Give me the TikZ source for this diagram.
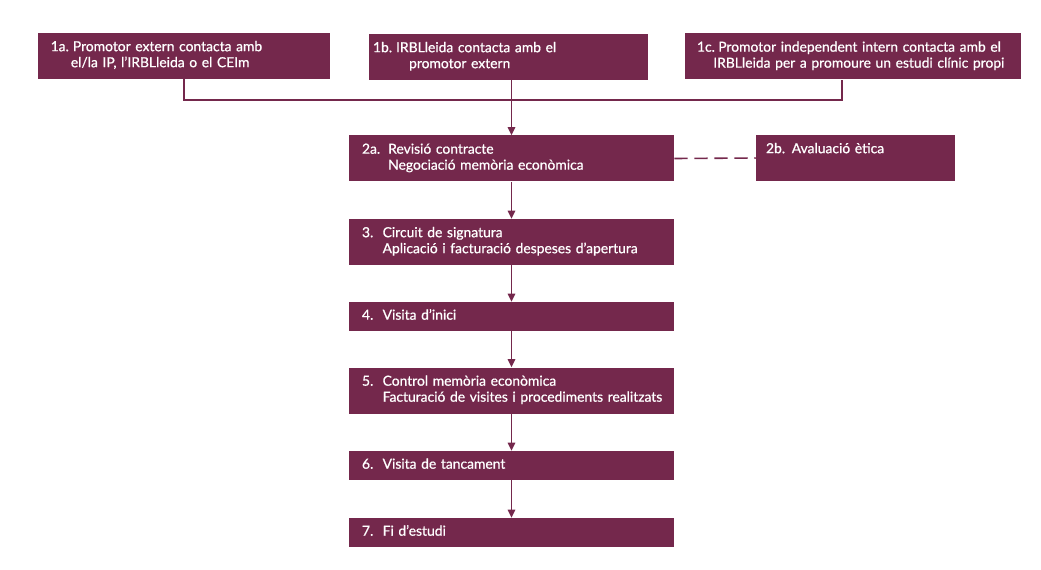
\documentclass[tikz,border=0pt]{standalone}
\usepackage{fontspec}
\setmainfont{Lato}[FakeBold=0.7]
\usetikzlibrary{positioning,arrows.meta}
\definecolor{granat}{HTML}{74284C}
\newcommand{\pas}[3][6pt]{\begin{tabular}{@{}l@{\hspace{#1}}l@{}}#2 & #3\end{tabular}}

\begin{document}
\begin{tikzpicture}[x=0.75pt,y=-0.75pt,
  caixa/.style={fill=granat,text=white,inner ysep=0pt,align=left,minimum height=34.5pt,font=\fontsize{10.4}{12}\selectfont},
  etapa/.style={caixa,text width=224.25pt,inner xsep=9.75pt},
  curta/.style={etapa,minimum height=21.75pt},
  linia/.style={granat,line width=1.2pt},
  fletxa/.style={linia,-{Triangle[width=5.5pt,length=6pt]}}]
\useasboundingbox (0,0) rectangle (1041,570);
% entrades
\node[caixa,text width=200pt,inner xsep=9.5pt] (c1a) at (184,56) {\pas[3pt]{1a.}{Promotor extern contacta amb\\ & \hspace*{-1.5pt}el/la IP, l’IRBLleida o el CEIm}};
\node[caixa,text width=203.25pt,inner xsep=3pt] (c1b) at (508.5,57) {\pas[3pt]{1b.}{IRBLleida contacta amb el\\ & \hspace*{9.75pt}promotor extern}};
\node[caixa,text width=234pt,inner xsep=9pt] (c1c) at (853,56.5) {\pas[2.5pt]{1c.}{Promotor independent intern contacta amb el\\ & \hspace*{-3.75pt}IRBLleida per a promoure un estudi clínic propi}};
% circuit
\node[etapa] (c2a) at (511.5,158.5) {\pas{2a.}{Revisió contracte\\ & Negociació memòria econòmica}};
\node[caixa,text width=134.25pt,inner xsep=7.5pt] (c2b) at (855.5,158) {\pas[5pt]{2b.}{Avaluació ètica\\ & \strut}};
\node[etapa] (c3) at (511.5,242) {\pas[7pt]{3.}{Circuit de signatura\\ & Aplicació i facturació despeses d’apertura}};
\node[curta] (c4) at (511.5,316.5) {\pas[7pt]{4.}{Visita d’inici}};
\node[etapa] (c5) at (511.5,390.5) {\pas[7pt]{5.}{Control memòria econòmica\\ & Facturació de visites i procediments realitzats}};
\node[curta] (c6) at (511.5,465.5) {\pas[7pt]{6.}{Visita de tancament}};
\node[curta] (c7) at (511.5,532.5) {\pas[7pt]{7.}{Fi d’estudi}};
\coordinate (junta) at (511.5,100);
\draw[linia] (c1a.south) |- (junta) -| ([xshift=-8.25pt]c1c.south);
\draw[fletxa] (c1b.south -| c2a.north) -- (c2a.north);
\draw[linia,dash pattern=on 10pt off 5pt] (c2a.east) -- (c2b.west);
\draw[fletxa] (c2a) -- (c3);
\draw[fletxa] (c3) -- (c4);
\draw[fletxa] (c4) -- (c5);
\draw[fletxa] (c5) -- (c6);
\draw[fletxa] (c6) -- (c7);
\end{tikzpicture}
\end{document}
